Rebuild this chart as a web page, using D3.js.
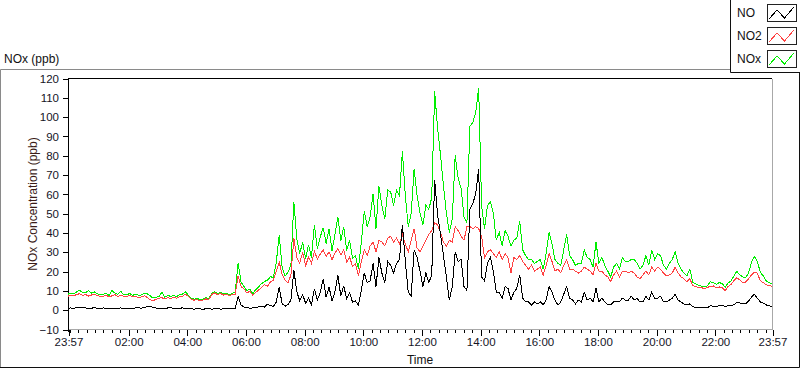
<!DOCTYPE html>
<html>
<head>
<meta charset="utf-8">
<script src="https://cdn.jsdelivr.net/npm/d3@7"></script>
<style>
  body { margin: 0; background: #fff; }
  svg { display: block; font-family: "Liberation Sans", Arial, sans-serif; }
  .tick text { fill: #15151f; }
</style>
</head>
<body>
<div id="container"></div>
<script>
// one reading every 6 minutes, starting 23:57
let stepMinutes = 6;

let no = [
  0.8,0.9,0.7,1.2,1.4,1.1,0.9,0.6,0.8,1.0,0.7,
  0.6,0.9,0.8,0.5,0.7,0.6,0.8,0.9,0.6,0.7,
  0.8,0.6,0.9,1.0,0.8,1.2,1.6,1.8,1.1,0.9,
  0.7,0.8,0.6,0.9,1.0,0.7,0.6,0.8,0.9,0.6,
  0.5,0.4,0.3,0.5,0.4,0.3,0.4,0.5,0.3,0.4,
  0.5,0.3,0.4,0.6,0.4,0.5,0.8,
  7.0,2.5,1.4,1.0,0.8,0.9,1.2,1.5,1.9,1.4,2.8,2.2,1.6,
  4.0,11.5,3.2,1.8,2.6,4.9,20.5,9.3,4.6,7.8,
  3.4,5.9,2.7,10.6,5.2,8.8,16.0,6.4,11.8,4.4,
  9.2,17.8,7.1,12.4,5.6,8.9,3.9,
  4.5,2.5,10,19,14,15,24,12,27,19,14,25,23,
  19,24,26,44,25,9,7,31,27,20,
  12,19,14,18,67,49,39,28,17,5,
  12,30,25,26,12,10,52,55,60,73,
  17,15,24,27,
  20,9,9,6,12,11,
  5,9,11,18,6,4,4,2.5,4,3,
  4,2.5,5,12,9,5,2.5,4,8,12,
  6,5,3,5,4,9,5,6,4,11,
  4,6,4,2.5,2.5,4,4,4,6,5,5,7,
  5,6,4,4,7,5,9,6,
  6,7,4,4,5,6,8,5,4,3,
  2.5,3,1.5,1.3,1.2,1.2,1.0,1.1,2,1.8,
  1.8,2,2.2,1.8,2,2,2.5,3.8,3.5,3,
  3,4.5,6.5,8,6,4,3.5,2.5,2,1.5
];

let no2 = [
  7.0,7.6,7.2,7.9,8.3,7.5,7.8,7.1,7.6,7.9,7.3,
  7.0,6.8,7.5,6.6,7.2,7.8,6.9,7.3,7.0,6.8,
  7.4,6.6,6.9,6.2,6.6,7.2,6.4,5.1,4.6,5.4,
  5.9,6.2,5.6,6.3,5.8,6.4,6.0,6.6,6.8,8.1,
  6.9,5.4,4.9,5.2,4.7,5.0,5.6,5.3,7.9,8.7,
  7.8,8.4,7.6,7.9,7.3,7.8,8.0,
  17.6,12.0,10.8,8.6,9.7,7.4,8.9,10.2,11.6,12.9,12.1,14.4,15.3,
  19.8,24.6,18.4,15.2,13.8,18.0,37.2,26.9,24.2,29.7,
  22.8,27.3,24.0,30.4,26.1,28.8,31.0,27.6,30.0,25.9,
  29.3,31.6,28.4,30.9,24.7,27.2,22.5,
  24,17.6,25,31,28,33,35,30,36,35,33,37,38,
  35,37,34,39,34,30,36,42,32,30,
  33,36,39,41,45,44,40,35,33,36,
  35,43,41,38,36,43,43,42,43,42,
  38,27,30,31,
  29,27,30,26,29,27,
  19,27,26,28,25,23,21,23,20,21,
  22,18,23,29,25,20,21,19,23,26,
  21,21,20,19,20,22,21,20,18,24,
  20,20,18,17,14.5,18,20,17,20,20,19,20,
  19,17,16,18,20,18,22,20,
  22,21,19,17.5,18,19,22,19,17,16,
  14.5,16,12.5,12,11.5,11.4,10.8,11.6,12,12.3,
  11.5,11.8,11.4,9.8,12,13,15,16.5,15.5,14,
  14.3,16,18,19.5,19,15,14,13,12.4,12.2
];

let nox = [
  8.0,8.7,8.1,9.3,10.1,8.8,8.9,9.8,8.6,9.2,8.2,
  7.8,8.0,8.6,7.3,9.9,8.6,7.9,9.5,7.8,7.6,
  8.4,7.4,8.0,7.5,7.6,8.6,8.2,7.2,6.0,6.5,
  6.8,9.1,6.4,7.4,6.9,7.3,6.8,7.7,8.0,9.4,
  7.6,6.0,5.4,5.9,5.2,5.5,6.2,5.9,8.4,9.3,
  8.4,8.9,8.1,8.6,7.8,8.5,9.0,
  24.3,14.2,12.0,9.8,10.6,8.3,10.4,11.9,13.5,14.6,15.3,17.0,16.8,
  24.5,38.6,22.0,17.5,19.3,23.2,56.0,36.4,29.1,35.0,
  26.4,33.5,27.0,44.0,31.6,37.7,42.5,34.3,41.9,30.5,
  38.8,48.2,35.7,43.0,30.6,36.0,26.8,
  28,21,35,51,43,48,60,42,64,54,47,62,61,
  54,62,59,82,59,43,50,73,59,50,
  44,54,52,58,113,94,80,64,50,40,
  47,80,68,63,48,45,95,97,102,115,
  54,42,54,56,
  50,36,40,33,41,38,
  33,36,37,46,31,28,26,26,24,25,
  26,21,29,40,34,26,24,23,31,39,
  28,26,23,24,24,31,27,26,22,35,
  24,27,23,20,17,22,24,21,27,25,25,26,
  26,24,21,23,28,23,31,26,
  29,28,23,21,24,26,30,24,21,19,
  17.5,21,14,13.5,12.5,12.2,11.8,12.4,14.5,14,
  13.2,14,13.6,11.6,13.8,14.8,17.4,20,18,17,
  16.5,19,24.5,27.5,25,19.5,17.5,15,14,13.4
];

// minutes after 23:57 for the labelled ticks
let majorMinutes = [0, 123, 243, 363, 483, 603, 723, 843, 963, 1083, 1203, 1323, 1440];
let majorLabels = ["23:57","02:00","04:00","06:00","08:00","10:00","12:00",
                   "14:00","16:00","18:00","20:00","22:00","23:57"];
let yTicks = [-10, 0, 10, 20, 30, 40, 50, 60, 70, 80, 90, 100, 110, 120];

let seriesNames = ["NO", "NO2", "NOx"];
let seriesColors = ["#000000", "#ff4242", "#00ee00"];

let w = 800;
let h = 369;

let svg = d3.select("#container").append("svg")
            .attr("width", w)
            .attr("height", h);

// outer graph panel
svg.append("path")
   .attr("d", "M0.5,367 V69.5 H730")
   .attr("fill", "none").attr("stroke", "#8a8a8a");
svg.append("path")
   .attr("d", "M0,367.5 H799.5 V72")
   .attr("fill", "none").attr("stroke", "#101010");

svg.append("text")
   .attr("x", 4)
   .attr("y", 63)
   .attr("font-size", 12)
   .attr("fill", "#111")
   .text("NOx (ppb)");

let xScale = d3.scaleLinear()
               .domain([0, 1440])
               .range([68, 772]);

let yScale = d3.scaleLinear()
               .domain([-10, 120])
               .range([329, 78]);

let minorMinutes = d3.range(3, 1440, 120 / 7);

// plot frame
svg.append("rect")
   .attr("x", 68).attr("y", 78)
   .attr("width", 704).attr("height", 251)
   .attr("fill", "#fff");
svg.append("path")
   .attr("d", "M772.5,78.5 V329.5 H68")
   .attr("fill", "none").attr("stroke", "#a8a8a8")
   .attr("shape-rendering", "crispEdges");
svg.append("path")
   .attr("d", "M68.5,332 V78.5 H772")
   .attr("fill", "none").attr("stroke", "#000")
   .attr("shape-rendering", "crispEdges");

// axes
let xMinor = d3.axisBottom(xScale)
               .tickValues(minorMinutes)
               .tickSize(3)
               .tickFormat("");
let xMajor = d3.axisBottom(xScale)
               .tickValues(majorMinutes)
               .tickSize(6)
               .tickPadding(2)
               .tickFormat((d, i) => majorLabels[i]);

let gxMinor = svg.append("g").attr("transform", "translate(0.5,330)").call(xMinor);
let gx = svg.append("g").attr("transform", "translate(0.5,330)").call(xMajor);
gxMinor.select(".domain").remove();
gx.select(".domain").remove();
gx.selectAll("text").attr("font-size", 11.5);
svg.selectAll(".tick line").attr("shape-rendering", "crispEdges").attr("stroke", "#000");

let yAxis = d3.axisLeft(yScale)
              .tickValues(yTicks)
              .tickSize(5)
              .tickPadding(4);
let gy = svg.append("g").attr("transform", "translate(68,0.5)").call(yAxis);
gy.select(".domain").remove();
gy.selectAll("text").attr("font-size", 11.5);
gy.selectAll(".tick line").attr("shape-rendering", "crispEdges").attr("stroke", "#000");

svg.append("text")
   .attr("x", 420)
   .attr("y", 364)
   .attr("text-anchor", "middle")
   .attr("font-size", 12)
   .attr("fill", "#111")
   .text("Time");

svg.append("text")
   .attr("transform", "translate(37,204) rotate(-90)")
   .attr("text-anchor", "middle")
   .attr("font-size", 12)
   .attr("fill", "#3a1c18")
   .text("NOx Concentration (ppb)");

// data lines, NOx underneath so NO2 shows on top where they meet
let series = [no, no2, nox];
let line = d3.line()
             .x((d, i) => xScale(i * stepMinutes))
             .y(d => yScale(d));

let plot = svg.append("g");
[2, 1, 0].forEach(k => {
  plot.append("path")
      .datum(series[k])
      .attr("fill", "none")
      .attr("stroke", seriesColors[k])
      .attr("stroke-width", 1)
      .attr("shape-rendering", "crispEdges")
      .attr("d", line);
});

// legend
svg.append("path")
   .attr("d", "M730.5,0 V72.5 H800")
   .attr("fill", "none").attr("stroke", "#101010");

let legend = svg.append("g")
                .selectAll("g")
                .data(seriesNames)
                .enter()
                .append("g")
                .attr("transform", (d, i) => "translate(0," + (i * 23) + ")");

legend.append("text")
      .attr("x", 737)
      .attr("y", 17)
      .attr("font-size", 12)
      .attr("fill", "#111")
      .text(d => d);

legend.append("rect")
      .attr("x", 767.5)
      .attr("y", 4.5)
      .attr("width", 29)
      .attr("height", 17)
      .attr("fill", "#fff")
      .attr("stroke", "#222")
      .attr("shape-rendering", "crispEdges");

legend.append("path")
      .attr("d", "M769,19 L777,10 L784.5,18 L794,7")
      .attr("fill", "none")
      .attr("stroke", (d, i) => seriesColors[i])
      .attr("shape-rendering", "crispEdges");
</script>
</body>
</html>
